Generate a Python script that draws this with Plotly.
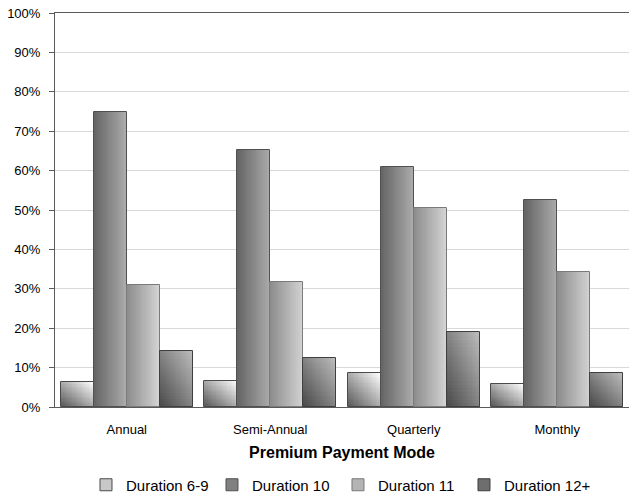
import plotly.graph_objects as go

# Share of policies by premium payment mode and policy duration (%)
categories = ["Annual", "Semi-Annual", "Quarterly", "Monthly"]
series_names = ["Duration 6-9", "Duration 10", "Duration 11", "Duration 12+"]
dur_6_9 = [6.4, 6.7, 8.6, 5.8]
dur_10 = [74.8, 65.2, 60.9, 52.5]
dur_11 = [31.0, 31.7, 50.4, 34.3]
dur_12p = [14.3, 12.4, 19.0, 8.7]
y_ticks = list(range(0, 101, 10))
y_ticktext = [f"{v}%" for v in y_ticks]

series_values = [dur_6_9, dur_10, dur_11, dur_12p]

# gradient style per series: (kind, start rgb, end rgb, outline)
styles = [
    ("diagonal", (85, 85, 85), (255, 255, 255), "#4a4a4a"),
    ("horizontal", (100, 100, 100), (172, 172, 172), "#505050"),
    ("horizontal", (140, 140, 140), (212, 212, 212), "#7a7a7a"),
    ("diagonal", (72, 72, 72), (190, 190, 190), "#3f3f3f"),
]
legend_colors = ["#c8c8c8", "#808080", "#b4b4b4", "#6e6e6e"]

group_width = 0.92
bar_w = group_width / len(series_values)


def mix(c0, c1, t):
    return "rgb(%d,%d,%d)" % tuple(round(a + (b - a) * t) for a, b in zip(c0, c1))


fig = go.Figure()

for s, (values, (kind, c0, c1, outline)) in enumerate(zip(series_values, styles)):
    left = -group_width / 2 + s * bar_w
    ncol = 18 if kind == "horizontal" else 20
    nrow = 1 if kind == "horizontal" else 20
    xs, ys, bases, offs, widths, cols = [], [], [], [], [], []
    # painter's order: each cell runs to the bar's right/top edge and is
    # overdrawn by later cells, so the strips join without seams
    for k in range(ncol):
        for m in range(nrow):
            u = (k + 0.5) / ncol
            v = (m + 0.5) / nrow
            t = u if kind == "horizontal" else (u + v) / 2
            for cat, val in zip(categories, values):
                b = val * m / nrow
                xs.append(cat)
                bases.append(b)
                ys.append(val - b)
                offs.append(left + bar_w * k / ncol)
                widths.append(bar_w * (ncol - k) / ncol)
                cols.append(mix(c0, c1, t))
    fig.add_trace(go.Bar(
        x=xs, y=ys, base=bases, offset=offs, width=widths,
        marker=dict(color=cols, line=dict(width=0)),
        showlegend=False, hoverinfo="skip",
    ))
    # bar outline
    fig.add_trace(go.Bar(
        x=categories, y=values, offset=left, width=bar_w,
        marker=dict(color="rgba(0,0,0,0)", line=dict(color=outline, width=1)),
        showlegend=False, name=series_names[s],
        hovertemplate="%{x}: %{y:.1f}%<extra>" + series_names[s] + "</extra>",
    ))

# legend entries
for s, name in enumerate(series_names):
    fig.add_trace(go.Bar(
        x=[categories[0]], y=[None], name=name,
        marker=dict(color=legend_colors[s], line=dict(color=styles[s][3], width=1)),
    ))

fig.update_layout(
    width=629, height=495,
    margin=dict(l=55, r=0, t=13, b=88),
    barmode="overlay", bargap=0, bargroupgap=0,
    plot_bgcolor="white", paper_bgcolor="white",
    font=dict(family="Liberation Sans, Arial, sans-serif", size=13, color="#000"),
    legend=dict(
        orientation="h", x=0.054, xanchor="left",
        yref="container", y=0.0202, yanchor="middle",
        font=dict(size=15), entrywidth=81, entrywidthmode="pixels",
        itemwidth=30, traceorder="normal", tracegroupgap=0,
    ),
    xaxis=dict(
        categoryorder="array", categoryarray=categories,
        showline=True, mirror=True, linecolor="#5a5a5a", linewidth=1,
        ticks="", showgrid=False, automargin=False,
        tickfont=dict(size=13), ticklabelstandoff=10,
        title=dict(text="<b>Premium Payment Mode</b>", font=dict(size=16), standoff=11),
        range=[-0.5, 3.5],
    ),
    yaxis=dict(
        range=[0, 100], tickmode="array", tickvals=y_ticks, ticktext=y_ticktext,
        showline=True, linecolor="#5a5a5a", linewidth=1,
        ticks="outside", ticklen=5, tickcolor="#5a5a5a",
        gridcolor="#d9d9d9", gridwidth=1, zeroline=False, automargin=False,
        tickfont=dict(size=13), ticklabelstandoff=6,
    ),
)

fig.write_html("out.html")
